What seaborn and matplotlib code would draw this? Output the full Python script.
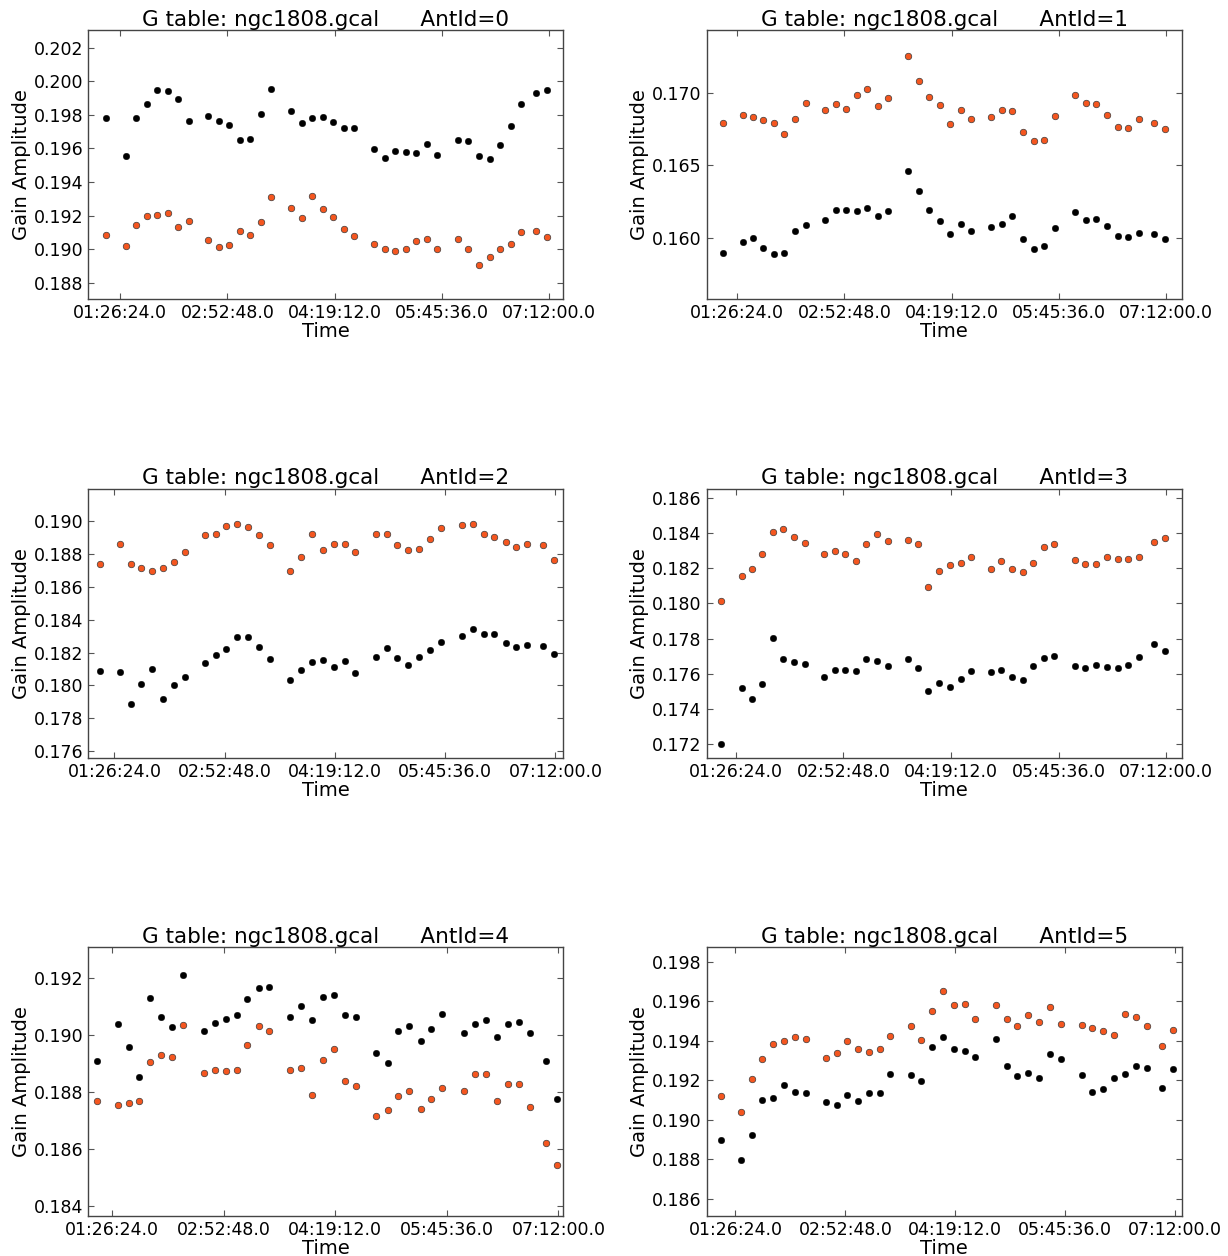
import matplotlib
matplotlib.use("Agg")
import matplotlib.pyplot as plt
import matplotlib.ticker as mticker
import numpy as np
import pandas as pd
import seaborn as sns

# ---- data -------------------------------------------------------------
# scan times in seconds since midnight
times = [4485, 5465, 5964, 6452, 6961, 7468, 7976, 8493, 9445, 9953, 10452,
         10968, 11467, 11984, 12491, 13462, 13960, 14460, 14976, 15493, 16010,
         16500, 17460, 17978, 18485, 18993, 19510, 20009, 20526, 21514, 22022,
         22539, 23055, 23573, 24080, 24588, 25322, 25847]

ant_ids = [0, 1, 2, 3, 4, 5]

black0 = [0.19784, 0.19556, 0.19780, 0.19865, 0.19947, 0.19945, 0.19893, 0.19766,
          0.19794, 0.19766, 0.19737, 0.19652, 0.19655, 0.19804, 0.19954,
          0.19826, 0.19751, 0.19780, 0.19790, 0.19756, 0.19723, 0.19723,
          0.19596, 0.19543, 0.19584, 0.19578, 0.19574, 0.19624, 0.19560,
          0.19650, 0.19642, 0.19553, 0.19535, 0.19618, 0.19731, 0.19865,
          0.19933, 0.19947]
orange0 = [0.19085, 0.19018, 0.19145, 0.19198, 0.19206, 0.19216, 0.19131, 0.19166,
           0.19052, 0.19010, 0.19024, 0.19109, 0.19085, 0.19162, 0.19309,
           0.19248, 0.19188, 0.19315, 0.19238, 0.19194, 0.19117, 0.19077,
           0.19028, 0.18998, 0.18988, 0.19002, 0.19046, 0.19063, 0.19002,
           0.19063, 0.19002, 0.18907, 0.18953, 0.18998, 0.19032, 0.19105,
           0.19109, 0.19073]

black1 = [0.15897, 0.15975, 0.16000, 0.15934, 0.15893, 0.15897, 0.16048, 0.16089,
          0.16123, 0.16196, 0.16190, 0.16183, 0.16208, 0.16151, 0.16187,
          0.16459, 0.16327, 0.16192, 0.16114, 0.16027, 0.16094, 0.16048,
          0.16078, 0.16094, 0.16151, 0.15991, 0.15922, 0.15943, 0.16068,
          0.16178, 0.16123, 0.16130, 0.16082, 0.16016, 0.16007, 0.16032,
          0.16027, 0.15995]
orange1 = [0.16795, 0.16847, 0.16831, 0.16811, 0.16790, 0.16715, 0.16822, 0.16929,
           0.16884, 0.16920, 0.16888, 0.16982, 0.17023, 0.16909, 0.16961,
           0.17253, 0.17084, 0.16970, 0.16913, 0.16785, 0.16879, 0.16817,
           0.16831, 0.16884, 0.16872, 0.16728, 0.16667, 0.16676, 0.16842,
           0.16986, 0.16929, 0.16920, 0.16847, 0.16765, 0.16756, 0.16817,
           0.16795, 0.16749]

black2 = [0.18087, 0.18083, 0.17884, 0.18008, 0.18097, 0.17916, 0.18004, 0.18053,
          0.18134, 0.18183, 0.18221, 0.18293, 0.18297, 0.18234, 0.18158,
          0.18032, 0.18095, 0.18142, 0.18154, 0.18114, 0.18146, 0.18073,
          0.18175, 0.18230, 0.18169, 0.18126, 0.18175, 0.18215, 0.18266,
          0.18303, 0.18347, 0.18311, 0.18311, 0.18260, 0.18234, 0.18248,
          0.18242, 0.18189]
orange2 = [0.18740, 0.18860, 0.18740, 0.18717, 0.18697, 0.18717, 0.18754, 0.18813,
           0.18915, 0.18925, 0.18974, 0.18984, 0.18965, 0.18915, 0.18854,
           0.18697, 0.18782, 0.18925, 0.18827, 0.18862, 0.18864, 0.18813,
           0.18925, 0.18925, 0.18854, 0.18827, 0.18831, 0.18892, 0.18961,
           0.18980, 0.18984, 0.18925, 0.18906, 0.18874, 0.18845, 0.18860,
           0.18854, 0.18764]

black3 = [0.17203, 0.17520, 0.17455, 0.17541, 0.17802, 0.17683, 0.17666, 0.17658,
          0.17584, 0.17622, 0.17622, 0.17618, 0.17687, 0.17673, 0.17647,
          0.17687, 0.17632, 0.17503, 0.17550, 0.17524, 0.17571, 0.17618,
          0.17609, 0.17622, 0.17584, 0.17567, 0.17645, 0.17691, 0.17704,
          0.17645, 0.17635, 0.17653, 0.17641, 0.17632, 0.17653, 0.17696,
          0.17770, 0.17730]
orange3 = [0.18013, 0.18155, 0.18197, 0.18279, 0.18404, 0.18421, 0.18377, 0.18343,
           0.18279, 0.18298, 0.18282, 0.18241, 0.18336, 0.18396, 0.18356,
           0.18362, 0.18336, 0.18095, 0.18182, 0.18220, 0.18231, 0.18262,
           0.18193, 0.18243, 0.18193, 0.18176, 0.18229, 0.18318, 0.18336,
           0.18246, 0.18227, 0.18227, 0.18262, 0.18254, 0.18254, 0.18262,
           0.18349, 0.18373]

black4 = [0.18911, 0.19041, 0.18959, 0.18855, 0.19131, 0.19065, 0.19029, 0.19211,
          0.19016, 0.19043, 0.19057, 0.19070, 0.19128, 0.19165, 0.19169,
          0.19065, 0.19103, 0.19054, 0.19135, 0.19142, 0.19072, 0.19065,
          0.18938, 0.18903, 0.19016, 0.19034, 0.18982, 0.19022, 0.19075,
          0.19009, 0.19040, 0.19055, 0.18995, 0.19040, 0.19046, 0.19007,
          0.18911, 0.18776]
orange4 = [0.18770, 0.18755, 0.18762, 0.18770, 0.18906, 0.18932, 0.18925, 0.19038,
           0.18869, 0.18877, 0.18874, 0.18879, 0.18966, 0.19033, 0.19014,
           0.18879, 0.18886, 0.18791, 0.18913, 0.18951, 0.18840, 0.18821,
           0.18715, 0.18738, 0.18787, 0.18805, 0.18742, 0.18776, 0.18816,
           0.18805, 0.18865, 0.18864, 0.18768, 0.18829, 0.18829, 0.18749,
           0.18622, 0.18546]

black5 = [0.18898, 0.18796, 0.18922, 0.19100, 0.19108, 0.19178, 0.19141, 0.19137,
          0.19092, 0.19077, 0.19124, 0.19094, 0.19136, 0.19137, 0.19233,
          0.19225, 0.19196, 0.19366, 0.19419, 0.19356, 0.19348, 0.19318,
          0.19408, 0.19274, 0.19222, 0.19237, 0.19210, 0.19331, 0.19309,
          0.19225, 0.19142, 0.19158, 0.19212, 0.19233, 0.19274, 0.19260,
          0.19161, 0.19257]
orange5 = [0.19122, 0.19038, 0.19206, 0.19306, 0.19381, 0.19397, 0.19419, 0.19408,
           0.19314, 0.19338, 0.19400, 0.19356, 0.19344, 0.19356, 0.19424,
           0.19474, 0.19403, 0.19550, 0.19651, 0.19580, 0.19587, 0.19511,
           0.19580, 0.19508, 0.19474, 0.19528, 0.19496, 0.19568, 0.19482,
           0.19479, 0.19462, 0.19450, 0.19429, 0.19535, 0.19519, 0.19474,
           0.19371, 0.19456]

blacks = [black0, black1, black2, black3, black4, black5]
oranges = [orange0, orange1, orange2, orange3, orange4, orange5]

time_ticks = [5184, 10368, 15552, 20736, 25920]
xlims = [(3620, 26630), (3711, 26675), (3943, 26298),
         (3771, 26673), (4065, 26151), (3819, 26252)]
ylims = [(0.18701, 0.20305), (0.15578, 0.17431), (0.17559, 0.19201),
         (0.17124, 0.18653), (0.18365, 0.19311), (0.18514, 0.19874)]
yticks = [np.arange(0.188, 0.2021, 0.002), [0.160, 0.165, 0.170],
          np.arange(0.176, 0.1901, 0.002), np.arange(0.172, 0.1861, 0.002),
          np.arange(0.184, 0.1921, 0.002), np.arange(0.186, 0.1981, 0.002)]

# ---- style ------------------------------------------------------------
sns.set_style("ticks")
plt.rcParams["font.family"] = ["DejaVu Sans"]
plt.rcParams.update({
    "text.color": "black", "axes.labelcolor": "black",
    "xtick.direction": "in", "ytick.direction": "in",
    "xtick.top": True, "ytick.right": True,
    "xtick.major.size": 4, "ytick.major.size": 4,
    "xtick.color": "#555555", "ytick.color": "#555555",
    "xtick.labelcolor": "black", "ytick.labelcolor": "black",
    "axes.edgecolor": "#444444", "axes.linewidth": 1.0,
})

ORANGE = "#f4561f"


def fmt_time(v, pos):
    v = int(round(v))
    h, rem = divmod(v, 3600)
    m, s = divmod(rem, 60)
    return f"{h:02d}:{m:02d}:{s:02d}.0"


fig, axes = plt.subplots(3, 2, figsize=(12.28, 12.56), dpi=100)
fig.subplots_adjust(left=0.0717, right=0.9625, top=0.976, bottom=0.0318,
                    wspace=0.301, hspace=0.703)

for i, ax in enumerate(axes.flat):
    df = pd.DataFrame({"Time": times, "black": blacks[i], "orange": oranges[i]})
    sns.scatterplot(data=df, x="Time", y="black", ax=ax, color="black",
                    s=22, edgecolor="black", linewidth=0.3, zorder=3)
    sns.scatterplot(data=df, x="Time", y="orange", ax=ax, color=ORANGE,
                    s=22, edgecolor="#3a3a3a", linewidth=0.5, zorder=3)
    ax.set_xlim(*xlims[i])
    ax.set_ylim(*ylims[i])
    ax.set_xticks(time_ticks)
    ax.xaxis.set_major_formatter(mticker.FuncFormatter(fmt_time))
    ax.set_yticks(yticks[i])
    ax.yaxis.set_major_formatter(mticker.FormatStrFormatter("%.3f"))
    ax.tick_params(labelsize=12.5, width=0.8)
    ax.set_xlabel("Time", fontsize=14, labelpad=0, color="black")
    ax.set_ylabel("Gain Amplitude", fontsize=14, labelpad=2, color="black")
    ax.set_title(f"G table: ngc1808.gcal      AntId={ant_ids[i]}",
                 fontsize=15.5, pad=3, color="black")
    for sp in ax.spines.values():
        sp.set_visible(True)

fig.savefig("out.png", dpi=100, facecolor="white")
